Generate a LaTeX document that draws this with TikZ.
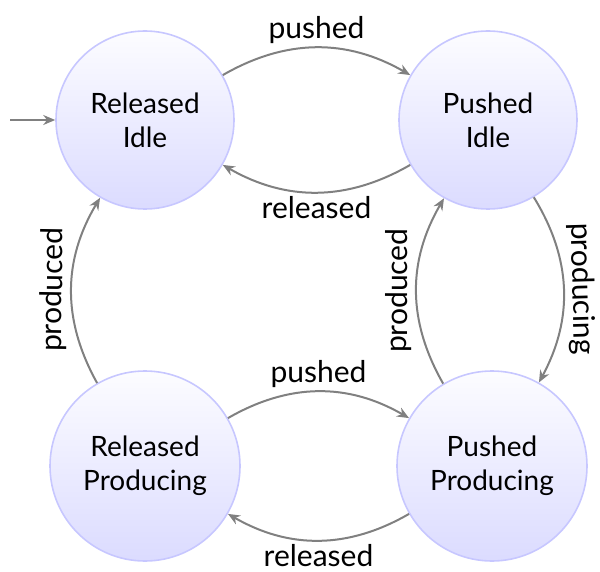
\documentclass[tikz,border=0pt]{standalone}
\usepackage{fontspec}
\setmainfont{Lato}
\usetikzlibrary{arrows.meta,quotes}
\begin{document}
\begin{tikzpicture}[x=1pt,y=-1pt,
  state/.style={circle,draw=blue!22,line width=1.6pt,top color=blue!1,bottom color=blue!14,
    inner sep=0pt,align=center,font=\fontsize{28}{34}\selectfont},
  edge/.style={draw=black!50,line width=2pt,-{Stealth[length=12pt,width=10pt]}},
  every edge quotes/.style={auto,font=\fontsize{30}{32}\selectfont,inner sep=3pt}]
\useasboundingbox (0,0) rectangle (600,572);
\node[state,minimum size=178pt] (RI) at (145,120) {Released\\Idle};
\node[state,minimum size=178pt] (PI) at (488,120) {Pushed\\Idle};
\node[state,minimum size=190pt] (RP) at (145,466) {Released\\Producing};
\node[state,minimum size=190pt] (PP) at (492,466) {Pushed\\Producing};
\coordinate (init) at (10,120);
\draw[edge] (init) -- (RI);
\path[every edge/.style={edge}]
  (RI) edge[bend left=30,"pushed"] (PI)
  (PI) edge[bend left=30,"released"] (RI)
  (RP) edge[bend left=30,"produced" sloped] (RI)
  (PP) edge[bend left=30,"produced" sloped] (PI)
  (PI) edge[bend left=30,"producing" sloped] (PP)
  (RP) edge[bend left=30,"pushed"] (PP)
  (PP) edge[bend left=30,"released"] (RP);
\end{tikzpicture}
\end{document}
